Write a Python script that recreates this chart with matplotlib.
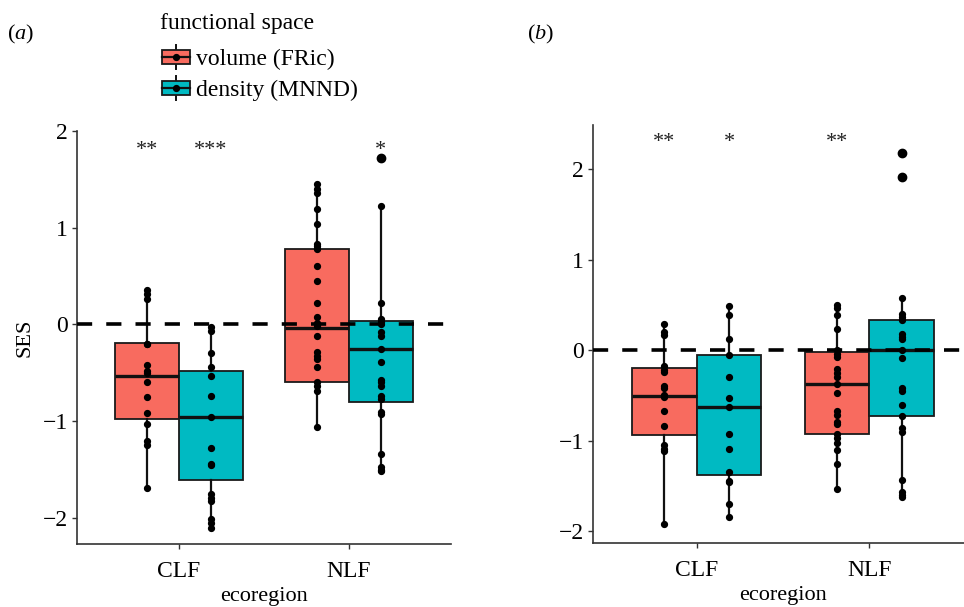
import matplotlib
matplotlib.use("Agg")
import matplotlib.pyplot as plt
from matplotlib.patches import Rectangle, Patch
from matplotlib.lines import Line2D
from matplotlib.legend_handler import HandlerBase

plt.rcParams['font.family'] = ['Liberation Serif', 'DejaVu Serif']
plt.rcParams['mathtext.fontset'] = 'custom'
plt.rcParams['mathtext.rm'] = 'Liberation Serif'
plt.rcParams['mathtext.it'] = 'Liberation Serif:italic'
FS = 16      # axis titles / panel labels
FS_TICK = 17
FS_LEG = 17

# ---------------- data ----------------
categories = ["CLF", "NLF"]
series = ["volume (FRic)", "density (MNND)"]
colors = ["#F86B5F", "#00BAC2"]

# panel (a) points
a_clf_fric = [0.36, 0.31, 0.26, -0.2, -0.2, -0.42, -0.48, -0.5, -0.6, -0.75, -0.92, -1.03, -1.2, -1.25, -1.69]
a_clf_mnnd = [-0.03, -0.07, -0.3, -0.44, -0.53, -0.74, -0.96, -1.28, -1.44, -1.45, -1.75, -1.79, -1.83, -2.01, -2.05, -2.1]
a_nlf_fric = [1.45, 1.40, 1.36, 1.19, 1.04, 0.83, 0.81, 0.78, 0.6, 0.45, 0.22, 0.08, 0.01, -0.02, -0.12,
              -0.29, -0.33, -0.36, -0.44, -0.59, -0.64, -0.69, -1.06]
a_nlf_mnnd = [1.72, 1.22, 0.22, 0.06, 0.03, 0.0, -0.08, -0.12, -0.25, -0.39, -0.57, -0.6, -0.64, -0.74,
              -0.77, -0.91, -0.93, -1.34, -1.47, -1.5, -1.52]
# panel (a) box statistics: order CLF-FRic, CLF-MNND, NLF-FRic, NLF-MNND
a_q1 = [-0.98, -1.61, -0.60, -0.80]
a_med = [-0.53, -0.96, -0.04, -0.25]
a_q3 = [-0.19, -0.485, 0.78, 0.035]
a_whislo = [-1.69, -2.10, -1.06, -1.52]
a_whishi = [0.36, -0.03, 1.45, 1.22]
a_outliers = [[], [], [], [1.72]]
a_stars = ["**", "***", "", "*"]

# panel (b) points
b_clf_fric = [0.29, 0.2, 0.17, -0.17, -0.22, -0.24, -0.39, -0.42, -0.49, -0.52, -0.67, -0.84, -1.05, -1.09, -1.11, -1.92]
b_clf_mnnd = [0.49, 0.39, 0.13, -0.055, -0.29, -0.53, -0.63, -0.93, -1.09, -1.34, -1.44, -1.46, -1.70, -1.84]
b_nlf_fric = [0.5, 0.47, 0.39, 0.23, 0.0, -0.04, -0.07, -0.21, -0.25, -0.29, -0.37, -0.47, -0.67, -0.71,
              -0.79, -0.82, -0.93, -0.97, -1.03, -1.10, -1.26, -1.53]
b_nlf_mnnd = [2.18, 1.92, 0.58, 0.40, 0.37, 0.33, 0.18, 0.15, 0.13, 0.0, -0.09, -0.42, -0.45, -0.6, -0.73,
              -0.86, -0.9, -1.43, -1.57, -1.60, -1.62]
b_q1 = [-0.94, -1.38, -0.93, -0.73]
b_med = [-0.50, -0.63, -0.37, 0.0]
b_q3 = [-0.20, -0.055, -0.02, 0.33]
b_whislo = [-1.92, -1.84, -1.53, -1.62]
b_whishi = [0.29, 0.49, 0.50, 0.58]
b_outliers = [[], [], [], [2.18, 1.92]]
b_stars = ["**", "*", "**", ""]

a_yticks = [-2, -1, 0, 1, 2]
b_yticks = [-2, -1, 0, 1, 2]

# ---------------- drawing ----------------
fig = plt.figure(figsize=(9.64, 6.07), dpi=100)

W = 964.0
H = 607.0
ax_a = fig.add_axes([77 / W, 1 - 544 / H, (451 - 77) / W, (544 - 131) / H])
ax_b = fig.add_axes([593 / W, 1 - 543 / H, (973 - 593) / W, (543 - 125) / H])

dodge = 0.75
bw = dodge / 2


def draw_panel(ax, pts, q1, med, q3, wlo, whi, outl, stars, star_y, ylim, yticks):
    positions = []
    for ci in range(len(categories)):
        for si in range(len(series)):
            positions.append(ci + (si - 0.5) * bw)
    stats = []
    for k in range(len(positions)):
        stats.append(dict(q1=q1[k], med=med[k], q3=q3[k], whislo=wlo[k], whishi=whi[k], fliers=outl[k]))
    bp = ax.bxp(stats, positions=positions, widths=bw, patch_artist=True, showcaps=False,
                boxprops=dict(edgecolor="#1a1a1a", linewidth=1.3),
                medianprops=dict(color="#111111", linewidth=2.4),
                whiskerprops=dict(color="#111111", linewidth=1.6),
                flierprops=dict(marker="o", markerfacecolor="black", markeredgecolor="black",
                                markersize=6), manage_ticks=False, zorder=2)
    for k, patch in enumerate(bp["boxes"]):
        patch.set_facecolor(colors[k % 2])
    ax.axhline(0, color="black", linewidth=2.6, linestyle=(0, (4.2, 3.9)), zorder=3)
    for k, p in enumerate(pts):
        ax.plot([positions[k]] * len(p), p, "o", color="black", markersize=4.2, zorder=4, linestyle="none")
        if stars[k]:
            ax.text(positions[k], star_y, stars[k], ha="center", va="center", fontsize=FS,
                    color="#222222", zorder=5)
    ax.set_xlim(-0.6, len(categories) - 1 + 0.6)
    ax.set_ylim(*ylim)
    ax.set_xticks(range(len(categories)))
    ax.set_xticklabels(categories)
    ax.set_yticks(yticks)
    ax.set_yticklabels([str(t).replace("-", "\u2212") for t in yticks])
    for s in ["top", "right"]:
        ax.spines[s].set_visible(False)
    for s in ["left", "bottom"]:
        ax.spines[s].set_color("#333333")
        ax.spines[s].set_linewidth(1.2)
    ax.tick_params(axis="both", length=3.5, width=1.0, color="#333333", labelsize=FS_TICK,
                   labelcolor="black", pad=3)
    ax.tick_params(axis="x", pad=8.5)
    ax.set_xlabel("ecoregion", fontsize=FS, labelpad=4)


draw_panel(ax_a, [a_clf_fric, a_clf_mnnd, a_nlf_fric, a_nlf_mnnd], a_q1, a_med, a_q3, a_whislo, a_whishi,
           a_outliers, a_stars, 1.80, (-2.27, 2.0), a_yticks)
ax_a.set_ylabel("SES", fontsize=FS, labelpad=6)
draw_panel(ax_b, [b_clf_fric, b_clf_mnnd, b_nlf_fric, b_nlf_mnnd], b_q1, b_med, b_q3, b_whislo, b_whishi,
           b_outliers, b_stars, 2.30, (-2.13, 2.49), b_yticks)

fig.text(21 / W, 1 - 34 / H, "($\\mathit{a}$)", ha="center", va="center", fontsize=FS)
fig.text(541 / W, 1 - 34 / H, "($\\mathit{b}$)", ha="center", va="center", fontsize=FS)


class BoxKeyHandler(HandlerBase):
    def create_artists(self, legend, orig_handle, xdescent, ydescent, width, height, fontsize, trans):
        x0, y0 = -xdescent, -ydescent
        cx = x0 + width / 2
        cy = y0 + height / 2
        rh = height * 0.6
        vline = Line2D([cx, cx], [y0, y0 + height], color="#111111", linewidth=1.4, transform=trans)
        rect = Rectangle((x0, cy - rh / 2), width, rh, facecolor=orig_handle.get_facecolor(),
                         edgecolor="#1a1a1a", linewidth=1.3, transform=trans)
        hline = Line2D([x0, x0 + width], [cy, cy], color="#111111", linewidth=1.6, transform=trans)
        dot = Line2D([cx], [cy], marker="o", color="black", markersize=4.2, transform=trans)
        return [vline, rect, hline, dot]


fig.text(160 / W, 1 - 23 / H, "functional space", ha="left", va="center", fontsize=FS_LEG)
handles = [Patch(facecolor=c) for c in colors]
em = FS_LEG * 100 / 72.0
leg = fig.legend(handles, series, loc="upper left", bbox_to_anchor=(162 / W, 1 - 45 / H),
                 frameon=False, fontsize=FS_LEG,
                 handler_map={Patch: BoxKeyHandler()}, handlelength=28 / em, handleheight=28 / em,
                 labelspacing=6 / em, handletextpad=6 / em, borderpad=0, borderaxespad=0)

fig.savefig("out.png", dpi=100)
